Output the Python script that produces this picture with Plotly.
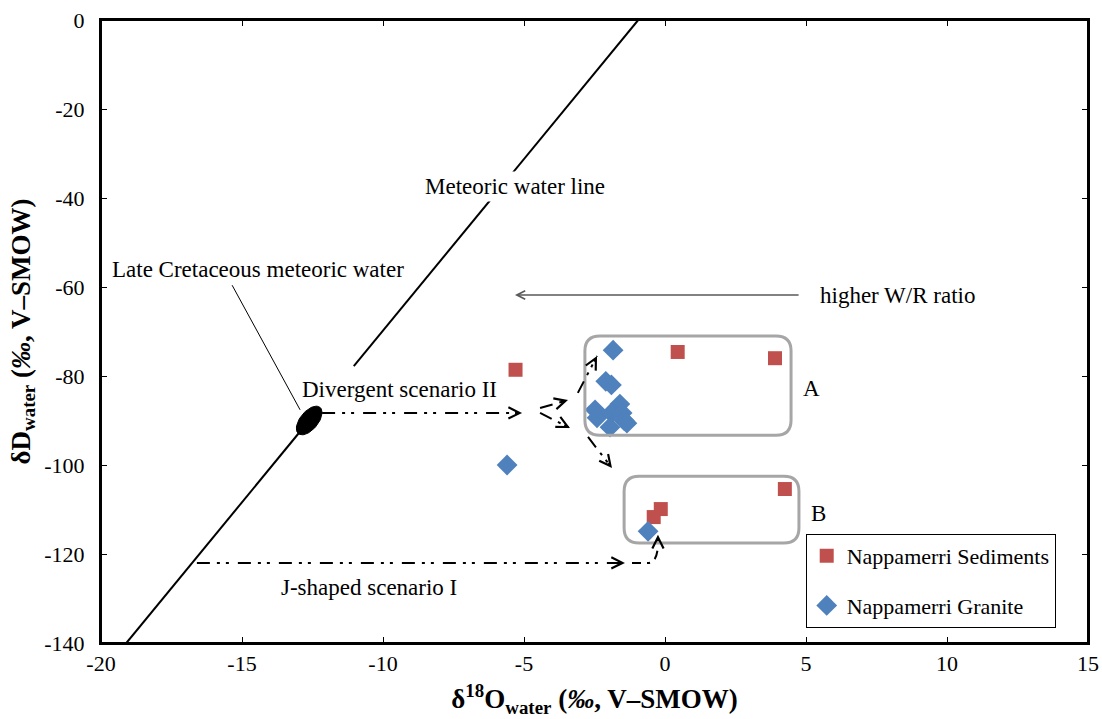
import numpy as np
import plotly.graph_objects as go

# ---------------- data ----------------
sed_o18 = [-5.3, 0.45, 3.9, 4.25, -0.15, -0.4]
sed_dD = [-78.6, -74.6, -76.0, -105.4, -109.9, -111.7]

gra_o18 = [-5.6, -1.84, -2.1, -1.9, -2.48, -2.41, -1.6, -1.9, -1.52, -1.45, -1.35, -1.95, -0.6]
gra_dD = [-100.0, -74.2, -81.2, -82.0, -87.6, -89.4, -86.3, -88.3, -88.3, -90.0, -90.6, -91.5, -114.9]

x_ticks = [-20, -15, -10, -5, 0, 5, 10, 15]
y_ticks = [0, -20, -40, -60, -80, -100, -120, -140]

# ---------------- layout constants ----------------
W, H = 1102, 719
ML, MR, MT, MB = 101, 14, 20, 76
XR = (-20, 15)
YR = (-140, 0)
PXX = (W - ML - MR) / (XR[1] - XR[0])   # px per x unit
PXY = (H - MT - MB) / (YR[1] - YR[0])   # px per y unit

FONT = "Liberation Serif, Times New Roman, serif"
RED = "#C0504D"
BLUE = "#4F81BD"
GREY = "#A6A6A6"
DASH = "13px,7px,3px,6px,3px,9px"

fig = go.Figure()

# Meteoric water line (two segments, gap behind label)
mwl_x = [-19.1, -0.95]
mwl_y = [-140, 0]
def mwl_at(y):
    return mwl_x[0] + (y - mwl_y[0]) / (mwl_y[1] - mwl_y[0]) * (mwl_x[1] - mwl_x[0])

ell_c = (mwl_at(-90), -90)
fig.add_trace(go.Scatter(x=[mwl_x[0], ell_c[0]], y=[mwl_y[0], ell_c[1]], mode="lines",
                         line=dict(color="black", width=2), showlegend=False, hoverinfo="skip"))
fig.add_trace(go.Scatter(x=[mwl_at(-77.8), mwl_x[1]], y=[-77.8, mwl_y[1]], mode="lines",
                         line=dict(color="black", width=2), showlegend=False, hoverinfo="skip"))

# Ellipse (late cretaceous meteoric water)
ang = np.arctan2((mwl_y[1] - mwl_y[0]) * PXY, (mwl_x[1] - mwl_x[0]) * PXX)
t = np.linspace(0, 2 * np.pi, 60)
a_px, b_px = 17, 9
ex = ell_c[0] + (a_px * np.cos(t) * np.cos(ang) - b_px * np.sin(t) * np.sin(ang)) / PXX
ey = ell_c[1] + (a_px * np.cos(t) * np.sin(ang) + b_px * np.sin(t) * np.cos(ang)) / PXY
fig.add_trace(go.Scatter(x=ex, y=ey, mode="lines", fill="toself", fillcolor="black",
                         line=dict(color="black", width=1), showlegend=False, hoverinfo="skip"))

# Leader line
fig.add_shape(type="line", x0=-15.35, y0=-59.6, x1=-12.94, y1=-87.6,
              line=dict(color="black", width=1))

# Rounded boxes A and B
def rounded(x0, x1, y0, y1, r=15):
    rx, ry = r / PXX, r / PXY
    return (f"M{x0+rx},{y0} L{x1-rx},{y0} Q{x1},{y0} {x1},{y0-ry} "
            f"L{x1},{y1+ry} Q{x1},{y1} {x1-rx},{y1} L{x0+rx},{y1} "
            f"Q{x0},{y1} {x0},{y1+ry} L{x0},{y0-ry} Q{x0},{y0} {x0+rx},{y0} Z")

fig.add_shape(type="path", path=rounded(-2.84, 4.47, -71.0, -93.3), line=dict(color=GREY, width=3))
fig.add_shape(type="path", path=rounded(-1.45, 4.75, -102.5, -117.5), line=dict(color=GREY, width=3))

# Dashed arrows (line + arrowhead)
arrows = [
    ((-12.16, -88.3), (-5.07, -88.3)),
    ((-4.43, -87.2), (-3.44, -85.4)),
    ((-4.43, -88.3), (-3.37, -91.7)),
    ((-2.73, -93.7), (-1.88, -100.7)),
    ((-3.09, -83.8), (-2.41, -75.5)),
    ((-16.6, -122.0), (-1.42, -122.0)),
]
for (sx, sy), (ex_, ey_) in arrows:
    fig.add_shape(type="line", x0=sx, y0=sy, x1=ex_, y1=ey_,
                  line=dict(color="black", width=2, dash=DASH))
    dxp, dyp = (ex_ - sx) * PXX, (ey_ - sy) * PXY
    L = np.hypot(dxp, dyp)
    fig.add_annotation(x=ex_, y=ey_, ax=-dxp / L * 8, ay=dyp / L * 8, axref="pixel", ayref="pixel",
                       showarrow=True, arrowhead=5, arrowsize=1.1, arrowwidth=2, arrowcolor="black", text="")

# J-shaped tail curving up
fig.add_shape(type="path",
              path="M-1.17,-122.0 L-0.6,-122.0 Q-0.28,-122.0 -0.25,-118.0",
              line=dict(color="black", width=2, dash="9px,6px,3px,6px"))
fig.add_annotation(x=-0.25, y=-115.7, ax=0, ay=8, axref="pixel", ayref="pixel",
                   showarrow=True, arrowhead=5, arrowsize=1.1, arrowwidth=2, arrowcolor="black", text="")

# higher W/R ratio arrow
fig.add_annotation(x=-5.32, y=-61.8, ax=4.79, ay=-61.8, axref="x", ayref="y",
                   showarrow=True, arrowhead=5, arrowsize=1.1, arrowwidth=1.5, arrowcolor="#595959", text="")

# Plot frame
fig.add_shape(type="rect", xref="paper", yref="paper", x0=0, y0=0, x1=1, y1=1,
              line=dict(color="black", width=2), layer="above")

# Data series
fig.add_trace(go.Scatter(x=sed_o18, y=sed_dD, mode="markers", name="Nappamerri Sediments",
                         legendgroup="s",
                         marker=dict(symbol="square", size=14, color=RED)))
fig.add_trace(go.Scatter(x=gra_o18, y=gra_dD, mode="markers", name="Nappamerri Granite",
                         legendgroup="g",
                         marker=dict(symbol="diamond", size=16, color=BLUE)))

# Text labels
def label(x, y, txt, bg=None):
    fig.add_annotation(x=x, y=y, text=txt, showarrow=False,
                       font=dict(family=FONT, size=23, color="black"),
                       bgcolor=bg, borderpad=2)

label(-5.32, -37.5, "Meteoric water line", "white")
label(-14.43, -56.0, "Late Cretaceous meteoric water")
label(-9.4, -83.1, "Divergent scenario II", "white")
label(-10.5, -127.6, "J-shaped scenario I")
label(8.25, -62.0, "higher W/R ratio")
label(5.2, -82.7, "A")
label(5.45, -110.8, "B")

fig.update_layout(
    width=W, height=H,
    margin=dict(l=ML, r=MR, t=MT, b=MB),
    paper_bgcolor="white", plot_bgcolor="white",
    font=dict(family=FONT, size=22, color="black"),
    legend=dict(x=0.714, y=0.175, xanchor="left", yanchor="top",
                bordercolor="black", borderwidth=1, bgcolor="white",
                font=dict(family=FONT, size=22), tracegroupgap=18,
                traceorder="grouped", itemwidth=30),
    xaxis=dict(range=list(XR), tickvals=x_ticks, ticktext=[str(v) for v in x_ticks],
               showgrid=False, zeroline=False, showline=True, linecolor="black", linewidth=2,
               mirror="ticks", ticks="inside", ticklen=6, tickwidth=1, tickcolor="black",
               tickfont=dict(family=FONT, size=22), automargin=False,
               title=dict(text="<b>δ<sup>18</sup>O<sub>water</sub> (<i>‰</i>, V–SMOW)</b>",
                          font=dict(family=FONT, size=27), standoff=14)),
    yaxis=dict(range=list(YR), tickvals=y_ticks, ticktext=[str(v) for v in y_ticks],
               showgrid=False, zeroline=False, showline=True, linecolor="black", linewidth=2,
               mirror="ticks", ticks="inside", ticklen=6, tickwidth=1, tickcolor="black",
               tickfont=dict(family=FONT, size=22), ticklabelstandoff=10, automargin=False,
               title=dict(text="<b>δD<sub>water</sub> (<i>‰</i>, V–SMOW)</b>",
                          font=dict(family=FONT, size=27), standoff=6)),
)

fig.write_html("out.html", config={"displayModeBar": False},
               post_script="document.body.style.margin='0';document.body.style.overflow='hidden';")
